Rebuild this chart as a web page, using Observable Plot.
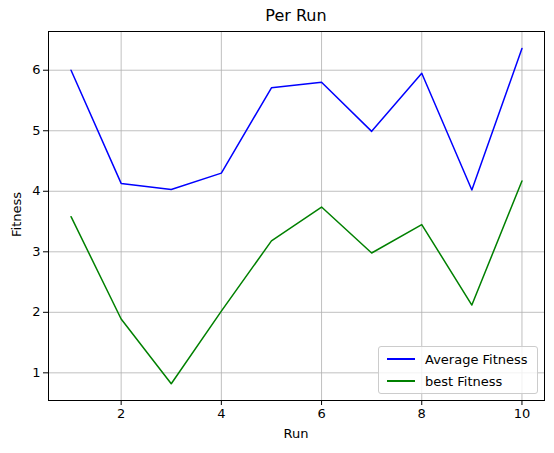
<!DOCTYPE html>
<html><head><meta charset="utf-8">
<script src="https://cdn.jsdelivr.net/npm/d3@7"></script>
<script src="https://cdn.jsdelivr.net/npm/@observablehq/plot@0.6"></script>
<style>
body{margin:0;background:#fff;font-family:"DejaVu Sans",sans-serif}
#wrap{position:relative;width:554px;height:453px}
.t{position:absolute;color:#000}
#legend{position:absolute;left:378px;top:346px;width:158px;height:46px;border:1px solid #ccc;border-radius:3px;background:rgba(255,255,255,0.8);font-size:13px}
#legend div{display:flex;align-items:center;height:22px;padding-left:8px}
#legend span.sw{display:inline-block;width:28px;height:2px;margin-right:10px}
</style></head>
<body><div id="wrap"></div>
<script>
const runs = [1,2,3,4,5,6,7,8,9,10];
const avgFitness = [6.0,4.13,4.03,4.3,5.71,5.8,4.99,5.95,4.02,6.36];
const bestFitness = [3.58,1.89,0.82,2.02,3.18,3.74,2.98,3.45,2.12,4.17];
const xTicks = [2,4,6,8,10];
const yTicks = [1,2,3,4,5,6];

const avg = runs.map((r,i)=>({run:r, v:avgFitness[i]}));
const best = runs.map((r,i)=>({run:r, v:bestFitness[i]}));

const chart = Plot.plot({
  width: 554, height: 453,
  marginLeft: 48, marginRight: 10, marginTop: 31, marginBottom: 53,
  style: {fontFamily: "DejaVu Sans", fontSize: "13px", color: "#000"},
  x: {domain: [0.55, 10.45], label: null},
  y: {domain: [0.543, 6.64], label: null},
  marks: [
    Plot.gridX(xTicks, {stroke: "#b0b0b0", strokeOpacity: 1, strokeWidth: 0.8}),
    Plot.gridY(yTicks, {stroke: "#b0b0b0", strokeOpacity: 1, strokeWidth: 0.8}),
    Plot.line(avg, {x: "run", y: "v", stroke: "blue", strokeWidth: 1.5}),
    Plot.line(best, {x: "run", y: "v", stroke: "green", strokeWidth: 1.5}),
    Plot.axisX(xTicks, {tickSize: 5, tickPadding: 3, tickFormat: "d", label: null}),
    Plot.axisY(yTicks, {tickSize: 5, tickPadding: 3, tickFormat: "d", label: null}),
    Plot.frame({stroke: "#000", strokeWidth: 1})
  ]
});
const wrap = document.getElementById("wrap");
wrap.appendChild(chart);
wrap.insertAdjacentHTML("beforeend", `
<div class="t" style="left:48px;width:496px;top:6px;text-align:center;font-size:16px">Per Run</div>
<div class="t" style="left:48px;width:496px;top:426px;text-align:center;font-size:13px">Run</div>
<div class="t" style="left:-14px;top:207px;width:60px;text-align:center;font-size:13px;transform:rotate(-90deg)">Fitness</div>
<div id="legend">
<div style="margin-top:1px"><span class="sw" style="background:blue"></span>Average Fitness</div>
<div><span class="sw" style="background:green"></span>best Fitness</div>
</div>`);
</script></body></html>
